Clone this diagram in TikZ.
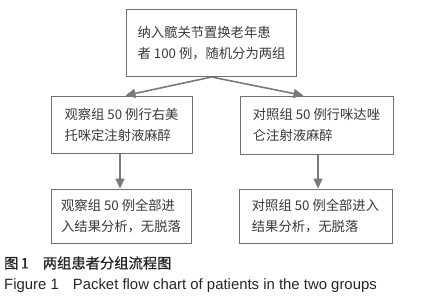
\documentclass[tikz,border=0pt]{standalone}
\usepackage{fontspec}
\setmainfont{Liberation Sans}
\newfontfamily\cjk{Noto Sans CJK SC}
\newfontfamily\cjkcap[FakeBold=0.8]{Noto Sans CJK SC}
\usetikzlibrary{arrows.meta}
\definecolor{boxgray}{HTML}{707070}
\definecolor{txtgray}{HTML}{3A3A3A}
\definecolor{arrgray}{HTML}{7A7A7A}
\tikzset{
  box/.style={draw=boxgray, line width=1pt, fill=white, text=txtgray,
    inner sep=0pt, font=\cjk\fontsize{13.3}{21}\selectfont, align=left},
  arr/.style={draw=arrgray, line width=1.6pt, -{Triangle[width=9pt,length=10pt]}},
  captext/.style={anchor=west, inner sep=0pt, text=black!85}
}
\begin{document}
\begin{tikzpicture}[x=1pt,y=-1pt]
\useasboundingbox (0,0) rectangle (428,300);
\node[box, minimum width=170pt, minimum height=67pt] (top) at (211.5,43)
  {纳入髋关节置换老年患\\者 100 例，随机分为两组};
\node[box, minimum width=141pt, minimum height=57pt] (left) at (121.5,124.5)
  {观察组 50 例行右美\\托咪定注射液麻醉};
\node[box, minimum width=153pt, minimum height=58pt] (right) at (316.5,125)
  {对照组 50 例行咪达唑\\仑注射液麻醉};
\node[box, minimum width=140pt, minimum height=54pt] (bl) at (121,216)
  {观察组 50 例全部进\\入结果分析，无脱落};
\node[box, minimum width=153pt, minimum height=54pt] (br) at (315.5,216)
  {对照组 50 例全部进入\\结果分析，无脱落};
\draw[arr] (top.south) -- ([xshift=4pt]left.north);
\draw[arr] (top.south) -- ([xshift=-13pt]right.north);
\draw[arr] ([xshift=-1.5pt]left.south) -- ([xshift=-1pt]bl.north);
\draw[arr] ([xshift=1.5pt]right.south) -- ([xshift=2.5pt]br.north);
\node[captext, font=\cjkcap\fontsize{14.3}{16}\selectfont] (c1) at (4,263) {图\,1\hspace{14pt}两组患者分组流程图};
\node[captext, font=\fontsize{14.9}{16}\selectfont] (c2) at (4,285.5) {Figure 1\hspace{14pt}Packet flow chart of patients in the two groups};
\end{tikzpicture}
\end{document}
